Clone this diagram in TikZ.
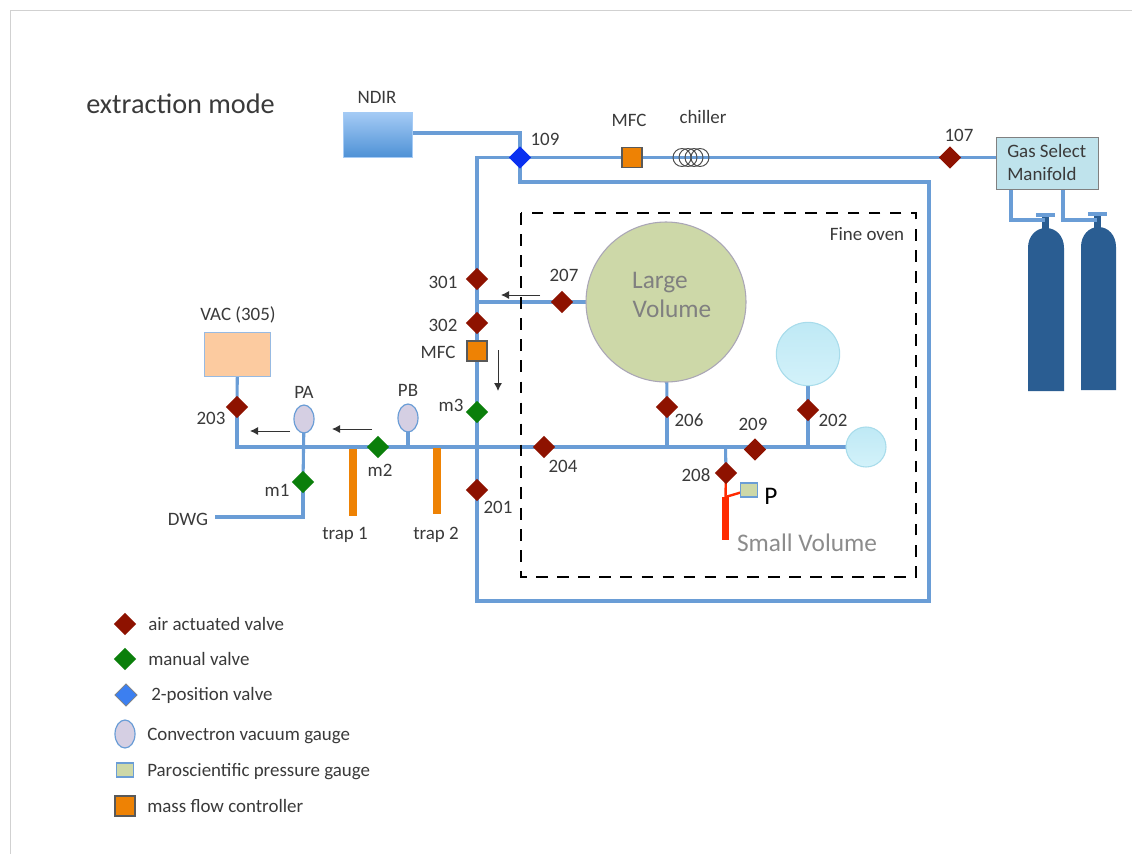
\documentclass[tikz,border=0pt]{standalone}
\usepackage{fontspec}
\setmainfont{Carlito}
\usetikzlibrary{shapes.geometric,arrows.meta,calc}
\pgfdeclarelayer{pipes}
\pgfsetlayers{pipes,main}
\definecolor{pipe}{HTML}{6A9DD6}
\definecolor{txt}{HTML}{3A3A3A}
\definecolor{redv}{HTML}{8E1200}
\definecolor{greenv}{HTML}{0B7F0B}
\definecolor{bluev}{HTML}{0A30F0}
\definecolor{legblue}{HTML}{3C7FF0}
\definecolor{orng}{HTML}{EE8204}
\definecolor{gauge}{HTML}{D5CFE3}
\definecolor{cyl}{HTML}{2A5D92}
\definecolor{olive}{HTML}{CDD8A8}
\definecolor{manif}{HTML}{BFE3EC}
\definecolor{peach}{HTML}{FCCBA0}
\definecolor{redpipecol}{HTML}{FF2A00}
\definecolor{ndirtop}{HTML}{A5CBF5}
\definecolor{ndirbot}{HTML}{4F92D6}
\definecolor{sphtop}{HTML}{BFE9F5}
\definecolor{sphbot}{HTML}{D3F2FA}
\definecolor{sphline}{HTML}{A8DCEB}
\tikzset{
  pipeline/.style={draw=pipe,line width=2.3pt,line join=miter},
  valvebase/.style={diamond,minimum width=17pt,minimum height=17pt,inner sep=0pt,aspect=1},
  airvalve/.style={valvebase,fill=redv},
  manvalve/.style={valvebase,fill=greenv},
  posvalve/.style={valvebase,fill=bluev},
  mfcbox/.style={rectangle,draw=black!65,line width=.8pt,fill=orng,minimum width=15pt,minimum height=15pt,inner sep=0pt},
  gaugeell/.style={ellipse,draw=pipe,line width=.9pt,fill=gauge,minimum width=15pt,minimum height=21pt,inner sep=0pt},
  coil/.style={circle,draw=black!70,line width=.7pt,minimum size=13.5pt,inner sep=0pt},
  lab/.style={text=txt,font=\fontsize{14.2pt}{16pt}\selectfont,inner sep=0pt},
  biglab/.style={lab,font=\fontsize{19pt}{22pt}\selectfont},
  leg/.style={lab,anchor=west},
  flow/.style={draw=black!80,line width=.7pt,-{Latex[length=6pt,width=6pt]}},
  trapbar/.style={draw=orng,line width=5.6pt},
  redpipe/.style={draw=redpipecol},
  sphere/.style={circle,draw=sphline,line width=.8pt,top color=sphtop,bottom color=sphbot,inner sep=0pt},
  tank/.style={fill=cyl,draw=none},
  pgaugebox/.style={rectangle,draw=pipe,line width=.8pt,fill=olive,inner sep=0pt},
}
\begin{document}
\begin{tikzpicture}[x=.75pt,y=-.75pt]
\useasboundingbox (0,0) rectangle (1132,854);
\begin{pgfonlayer}{pipes}
\fill[white] (0,0) rectangle (1132,854);
\draw[black!18,line width=.6pt] (1132,10) -- (10,10) -- (10,854);
\end{pgfonlayer}

% title
\node[lab,anchor=west,font=\fontsize{21.2pt}{24pt}\selectfont] (title) at (86,104) {extraction mode};

% equipment
\node[rectangle,minimum width=51.5pt,minimum height=33.5pt,inner sep=0pt,top color=ndirtop,bottom color=ndirbot,draw=ndirtop,line width=.5pt] (ndir) at (377.5,134.5) {};
\node[rectangle,draw=black!50,line width=.8pt,fill=manif,minimum width=77pt,minimum height=39.5pt,inner sep=0pt] (gsm) at (1047.5,163.5) {};
\node[rectangle,draw=pipe!70,line width=.8pt,fill=peach,minimum width=50pt,minimum height=33.5pt,inner sep=0pt] (vac) at (237.5,354.5) {};
\node[circle,draw=gauge!80!black,line width=.8pt,fill=olive,minimum size=120pt,inner sep=0pt] (large) at (666,302) {};
\node[sphere,minimum size=47.5pt] (upper) at (808,354) {};
\node[sphere,minimum size=30pt] (lower) at (866,447) {};
\node[pgaugebox,minimum width=12.5pt,minimum height=10.5pt] (pgauge) at (749,490) {};

% oven
\draw[black,line width=2.1pt,dash pattern=on 8.8pt off 7pt] (521,213) rectangle (916,577);
\node[lab] (ovenlab) at (867,234) {Fine oven};

% valves and gauges
\node[posvalve] (v109) at (520,157.5) {};
\node[mfcbox] (mfctop) at (632,157.5) {};
\node[airvalve] (v107) at (950,157.5) {};
\node[airvalve] (v301) at (477,279) {};
\node[airvalve] (v302) at (477,323) {};
\node[mfcbox] (mfcside) at (477,351) {};
\node[manvalve] (m3) at (477,412) {};
\node[airvalve] (v201) at (477,490) {};
\node[airvalve] (v207) at (562,302) {};
\node[airvalve] (v203) at (237,407) {};
\node[manvalve] (m2) at (378,447) {};
\node[manvalve] (m1) at (303,482) {};
\node[gaugeell] (pa) at (304,419) {};
\node[gaugeell] (pb) at (408,418) {};
\node[airvalve] (v204) at (544,447) {};
\node[airvalve] (v206) at (667,407) {};
\node[airvalve] (v209) at (755,449.5) {};
\node[airvalve] (v202) at (808,410) {};
\node[airvalve] (v208) at (726,473) {};

% junctions and corners
\coordinate (ndirc) at (520,133);
\coordinate (tl) at (477,157.5);
\coordinate (j207) at (477,302);
\coordinate (cross) at (477,447);
\coordinate (bl) at (477,601);
\coordinate (br) at (929,601);
\coordinate (tr) at (929,182);
\coordinate (t109) at (520,182);
\coordinate (mainL) at (237,447);
\coordinate (jpa) at (303,447);
\coordinate (jpb) at (408,447);
\coordinate (j206) at (667,447);
\coordinate (j208) at (725.5,447);
\coordinate (j202) at (808,447);
\coordinate (dwgc) at (303,517);
\coordinate (dwg) at (215,517);
\coordinate (redj) at (725.5,497);
\coordinate (redend) at (725.5,540);
\coordinate (g1a) at (1011,190); \coordinate (g1b) at (1011,220);
\coordinate (g2a) at (1063,190); \coordinate (g2b) at (1063,220);
\coordinate (n1) at (1045,220); \coordinate (n2) at (1097,220);
\coordinate (b1a) at (1036,215); \coordinate (b1b) at (1055,215);
\coordinate (b2a) at (1088,214); \coordinate (b2b) at (1107,214);

% pipes, under all components
\begin{pgfonlayer}{pipes}
\path[pipeline] (ndir.east |- ndirc) -- (ndirc) -- (v109.center);
\path[pipeline] (v109.center) -- (tl) -- (v301.center);
\path[pipeline] (v301.center) -- (j207) -- (v302.center);
\path[pipeline] (v302.center) -- (mfcside.center);
\path[pipeline] (mfcside.center) -- (m3.center);
\path[pipeline] (m3.center) -- (cross) -- (v201.center);
\path[pipeline] (v201.center) -- (bl) -- (br) -- (tr) -- (t109) -- (v109.center);
\path[pipeline] (v109.center) -- (mfctop.center);
\path[pipeline] (mfctop.center) -- (v107.center);
\path[pipeline] (v107.center) -- (gsm.west |- v107);
\path[pipeline] (j207) -- (v207.center);
\path[pipeline] (v207.center) -- (large.center);
\path[pipeline] (vac.center) -- (v203.center);
\path[pipeline] (v203.center) -- (mainL) -- (m2.center);
\path[pipeline] (m2.center) -- (v204.center);
\path[pipeline] (v204.center) -- (lower.center);
\path[pipeline] (pa.center) -- (m1.center);
\path[pipeline] (m1.center) -- (dwgc) -- (dwg);
\path[pipeline] (pb.center) -- (jpb);
\path[pipeline] (large.center) -- (v206.center);
\path[pipeline] (v206.center) -- (j206);
\path[pipeline] (upper.center) -- (v202.center);
\path[pipeline] (v202.center) -- (j202);
\path[pipeline] (j208) -- (v208.center);
\path[redpipe,line width=1.8pt] (v208.center) -- (redj) -- (pgauge.center);
\path[redpipe,line width=5.2pt] (redj) -- (redend);
\end{pgfonlayer}

% chiller
\node[coil] (ch1) at (682,157.5) {};
\node[coil] (ch2) at (688,157.5) {};
\node[coil] (ch3) at (694,157.5) {};
\node[coil] (ch4) at (700,157.5) {};

% traps
\coordinate (t1a) at (353,449); \coordinate (t1b) at (353,516);
\coordinate (t2a) at (437,448); \coordinate (t2b) at (437,514);
\path[trapbar] (t1a) -- (t1b);
\path[trapbar] (t2a) -- (t2b);

% gas cylinders
\fill[tank] (1028,391) -- (1028,248) .. controls (1028,236) and (1036,228) .. (1046,228) .. controls (1056,228) and (1064,236) .. (1064,248) -- (1064,391) -- cycle;
\fill[tank] (1081,390) -- (1081,247) .. controls (1081,235) and (1089,227) .. (1098.5,227) .. controls (1108,227) and (1116,235) .. (1116,247) -- (1116,390) -- cycle;
\fill[tank] (1042,215) rectangle (1049,230);
\fill[tank] (1094,214) rectangle (1101,229);
\path[pipeline] (g1a) -- (g1b) -- (n1);
\path[pipeline] (g2a) -- (g2b) -- (n2);
\path[pipeline] (b1a) -- (b1b);
\path[pipeline] (b2a) -- (b2b);

% flow arrows
\coordinate (a1s) at (290,431); \coordinate (a1e) at (250,431);
\coordinate (a2s) at (372,429); \coordinate (a2e) at (332,429);
\coordinate (a3s) at (498,350); \coordinate (a3e) at (498,391);
\coordinate (a4s) at (540,295); \coordinate (a4e) at (501,295);
\path[flow] (a1s) -- (a1e);
\path[flow] (a2s) -- (a2e);
\path[flow] (a3s) -- (a3e);
\path[flow] (a4s) -- (a4e);

% labels
\node[lab] (lndir) at (377,97) {NDIR};
\node[lab] (lmfc) at (629,120) {MFC};
\node[lab] (lch) at (703,117) {chiller};
\node[lab] (l109) at (545,139) {109};
\node[lab] (l107) at (959,135) {107};
\node[lab,anchor=west] (lgas) at (1007,151) {Gas Select};
\node[lab,anchor=west] (lman) at (1007,174) {Manifold};
\node[lab] (l301) at (443,282) {301};
\node[lab] (l207) at (564,275) {207};
\node[lab] (l302) at (443,325) {302};
\node[lab] (lmfc2) at (438,352) {MFC};
\node[lab] (lvac) at (238,315) {VAC (305)};
\node[lab] (lpa) at (304,392) {PA};
\node[lab] (lpb) at (408,390) {PB};
\node[lab] (lm3) at (451,405) {m3};
\node[lab] (l203) at (211,418) {203};
\node[lab] (lm2) at (380,470) {m2};
\node[lab] (lm1) at (277,490) {m1};
\node[lab] (ldwg) at (188,519) {DWG};
\node[lab] (lt1) at (345,535) {trap 1};
\node[lab] (lt2) at (436,535) {trap 2};
\node[lab] (l201) at (498,507) {201};
\node[lab] (l204) at (563,466) {204};
\node[lab] (l206) at (689,420) {206};
\node[lab] (l209) at (753,424) {209};
\node[lab] (l202) at (833,420) {202};
\node[lab] (l208) at (696,475) {208};
\node[biglab,text=black] (lp) at (771,496) {P};
\node[biglab,text=black!45] (lsmall) at (807,543) {Small Volume};
\node[biglab,text=black!50] (llarge1) at (660,283) {Large};
\node[biglab,text=black!50] (llarge2) at (672,309) {Volume};

% legend
\node[airvalve] (k1) at (125,624) {};
\node[manvalve] (k2) at (125,659) {};
\node[valvebase,fill=legblue,draw=black!50,line width=.5pt] (k3) at (126,695) {};
\node[gaugeell] (k4) at (125,734) {};
\node[pgaugebox,minimum width=13pt,minimum height=10.5pt] (k5) at (125,770) {};
\node[mfcbox] (k6) at (125,806) {};
\node[leg] (t1) at (148,624) {air actuated valve};
\node[leg] (t2) at (148,659) {manual valve};
\node[leg] (t3) at (151,695) {2-position valve};
\node[leg] (t4) at (147,736) {Convectron vacuum gauge};
\node[leg] (t5) at (147,772) {Paroscientific pressure gauge};
\node[leg] (t6) at (147,806) {mass flow controller};
\end{tikzpicture}
\end{document}
